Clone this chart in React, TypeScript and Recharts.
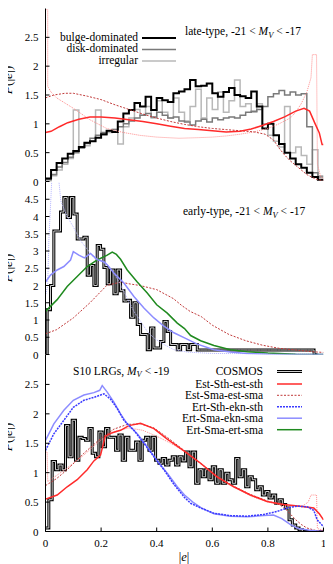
import React from 'react';
import { LineChart, Line, XAxis, YAxis } from 'recharts';

const FONT = '"Liberation Serif", "Times New Roman", Times, serif';

const X_TICKS = [0, 0.2, 0.4, 0.6, 0.8, 1];
const Y_TICKS_P1 = [0, 0.5, 1, 1.5, 2, 2.5];
const Y_TICKS_P2 = [0, 0.5, 1, 1.5, 2, 2.5, 3, 3.5, 4, 4.5];
const Y_TICKS_P3 = [0, 0.5, 1, 1.5, 2, 2.5];

// ---------- panel 1: late-type (COSMOS histograms, bin 0.02) ----------
const p1Bulge = [0.05, 0.2, 0.32, 0.4, 0.48, 0.53, 0.6, 0.67, 0.7, 0.76,
  0.82, 0.88, 0.86, 1.04, 1.18, 1.24, 1.36, 1.3, 1.47, 1.24,
  1.45, 1.41, 1.38, 1.53, 1.56, 1.6, 1.76, 1.65, 1.66, 1.7,
  1.53, 1.47, 1.55, 1.62, 1.5, 1.48, 1.45, 1.56, 1.3, 0.92,
  1.0, 0.8, 0.65, 0.5, 0.4, 0.3, 0.24, 0.15, 0.08, 0.03];
const p1Disk = [0.03, 0.12, 0.25, 0.33, 0.42, 0.5, 0.58, 0.66, 0.75, 0.8,
  0.85, 0.88, 0.9, 0.95, 1.0, 1.05, 1.1, 1.15, 1.18, 1.12,
  1.2, 1.15, 1.1, 1.12, 1.05, 1.03, 0.98, 1.05, 1.08, 1.03,
  1.1, 1.07, 1.1, 1.12, 1.1, 1.15, 1.2, 1.22, 1.25, 1.3,
  1.47, 1.52, 1.58, 1.5, 1.55, 1.5, 1.52, 0.95, 0.15, 0.08];
const p1Irr = [0.0, 0.1, 0.2, 0.3, 0.4, 1.24, 0.6, 0.62, 0.7, 1.24,
  0.8, 0.85, 0.9, 0.65, 0.95, 1.1, 1.25, 1.15, 1.3, 1.1,
  1.4, 1.2, 1.1, 1.45, 1.2, 1.05, 1.3, 1.6, 1.1, 1.45,
  1.25, 1.55, 1.2, 1.4, 1.76, 1.3, 1.35, 1.2, 1.35, 1.0,
  0.8, 0.7, 0.6, 1.3, 0.5, 0.6, 0.45, 0.3, 0.55, 0.1];
// models panel 1: [e, P]
const p1EstSth = [[0, 0.85], [0.02, 0.87], [0.05, 0.95], [0.08, 1.02], [0.12, 1.08], [0.16, 1.12], [0.2, 1.12], [0.25, 1.1], [0.3, 1.07], [0.35, 1.04], [0.4, 1.0], [0.45, 0.96], [0.5, 0.92], [0.55, 0.9], [0.6, 0.88], [0.65, 0.86], [0.7, 0.87], [0.74, 0.91], [0.78, 0.97], [0.82, 1.04], [0.86, 1.12], [0.9, 1.22], [0.93, 1.27], [0.95, 1.22], [0.97, 1.0], [0.985, 0.84], [0.995, 0.64], [1, 0.64]];
const p1EstSma = [[0, 1.45], [0.03, 1.5], [0.07, 1.53], [0.1, 1.53], [0.15, 1.48], [0.2, 1.42], [0.25, 1.33], [0.3, 1.25], [0.35, 1.17], [0.4, 1.1], [0.45, 1.04], [0.5, 0.99], [0.55, 0.95], [0.6, 0.92], [0.65, 0.9], [0.7, 0.88], [0.75, 0.86], [0.79, 0.82], [0.82, 0.72], [0.84, 0.58], [0.86, 0.46], [0.88, 0.36], [0.9, 0.28], [0.92, 0.2], [0.94, 0.12], [0.96, 0.07], [0.98, 0.03], [1, 0.02]];
const p1EstSmaAlt = [[0, 2.98], [0.008, 2.98], [0.008, 1.65], [0.02, 1.55], [0.04, 1.45], [0.07, 1.36], [0.1, 1.27], [0.16, 1.07], [0.22, 0.92], [0.28, 0.85], [0.34, 0.8], [0.4, 0.77], [0.48, 0.75], [0.55, 0.76], [0.6, 0.77], [0.65, 0.79], [0.7, 0.82], [0.75, 0.86], [0.8, 0.92], [0.84, 1.0], [0.88, 1.1], [0.9, 1.2], [0.92, 1.35], [0.94, 1.55], [0.955, 1.8], [0.96, 2.2], [0.975, 2.2], [0.978, 0.3], [0.99, 0.08], [1, 0.05]];

// ---------- panel 2: early-type (COSMOS bin 0.012, from e=0.006) ----------
const p2Cosmos = [1.3, 2.0, 3.58, 3.58, 4.13, 4.55, 3.97, 4.55, 4.07, 3.35,
  3.35, 3.4, 2.3, 2.58, 2.0, 3.16, 3.05, 2.52, 2.05, 2.45,
  1.76, 2.45, 1.85, 1.55, 1.57, 1.08, 1.5, 0.87, 0.58, 0.58,
  0.14, 0.77, 0.19, 0.19, 0.38, 0.96, 0.67, 0.29, 0.29, 0.14,
  0.29, 0.29, 0.14, 0.29, 0.29, 0.13, 0.13, 0.13, 0.13, 0.13,
  0.13, 0.13, 0.13, 0.13, 0.13, 0.13, 0.13, 0.13, 0.13, 0.13,
  0.13, 0.13, 0.13, 0.13, 0.13, 0.13, 0.13, 0.13, 0.13, 0.13,
  0.13, 0.13, 0.13, 0.13, 0.13, 0.13, 0.13, 0.13, 0.13, 0.13, 0];
const p2EstSma = [[0, 0.6], [0.04, 0.72], [0.1, 1.06], [0.16, 1.5], [0.22, 2.0], [0.27, 2.1], [0.3, 2.05], [0.34, 2.0], [0.4, 1.88], [0.46, 1.62], [0.49, 1.42], [0.52, 1.25], [0.56, 1.1], [0.6, 0.85], [0.66, 0.58], [0.72, 0.4], [0.78, 0.27], [0.84, 0.18], [0.9, 0.13], [0.96, 0.08], [1, 0.06]];
const p2ErtSmaEkn = [[0, 2.1], [0.018, 2.3], [0.042, 2.45], [0.066, 2.55], [0.09, 2.74], [0.1, 2.98], [0.12, 2.88], [0.14, 2.8], [0.162, 2.93], [0.186, 2.75], [0.21, 2.69], [0.222, 2.6], [0.246, 2.36], [0.282, 2.07], [0.318, 1.68], [0.354, 1.35], [0.39, 1.06], [0.426, 0.82], [0.462, 0.63], [0.5, 0.48], [0.546, 0.3], [0.606, 0.14], [0.665, 0.07], [0.725, 0.03], [0.8, 0.01], [1, 0]];
const p2ErtSmaEknAlt = [[0, 1.7], [0.008, 2.0], [0.012, 3.3], [0.018, 4.3], [0.024, 5.3], [0.045, 5.3], [0.055, 4.45], [0.078, 4.0], [0.1, 3.7], [0.126, 3.3], [0.15, 3.05], [0.174, 2.8], [0.2, 2.7], [0.222, 2.6], [0.246, 2.36], [0.27, 2.02], [0.294, 1.63], [0.318, 1.25], [0.342, 0.96], [0.366, 0.67], [0.39, 0.48], [0.426, 0.29], [0.462, 0.14], [0.51, 0.07], [0.6, 0.03], [1, 0.01]];
const p2ErtSmaErt = [[0, 1.25], [0.042, 1.59], [0.078, 1.97], [0.114, 2.26], [0.15, 2.55], [0.186, 2.74], [0.222, 2.88], [0.24, 2.97], [0.255, 2.9], [0.27, 2.76], [0.294, 2.45], [0.33, 2.1], [0.366, 1.78], [0.4, 1.44], [0.438, 1.2], [0.474, 0.91], [0.5, 0.75], [0.522, 0.55], [0.558, 0.4], [0.606, 0.26], [0.665, 0.14], [0.725, 0.08], [0.8, 0.04], [0.9, 0.01], [1, 0]];

// ---------- panel 3: S10 LRGs (COSMOS bin 0.012) ----------
const p3Cosmos = [0.06, 0.54, 1.19, 1.05, 1.13, 1.05, 1.8, 1.27, 1.89, 1.21,
  1.6, 1.58, 1.55, 1.75, 1.33, 1.27, 1.69, 1.44, 1.75, 1.6,
  1.6, 1.38, 1.64, 1.21, 1.6, 1.38, 1.38, 1.52, 1.21, 1.55,
  1.6, 1.38, 1.6, 1.21, 1.16, 1.24, 1.13, 1.21, 1.27, 1.13,
  1.27, 1.2, 1.35, 1.1, 1.35, 0.82, 1.05, 0.93, 1.05, 0.88,
  1.1, 0.82, 1.05, 0.82, 0.99, 0.88, 0.82, 1.24, 0.93, 1.05,
  0.76, 0.93, 0.88, 0.71, 0.76, 0.62, 0.68, 0.57, 0.62, 0.48,
  0.54, 0.46, 0.4, 0.2, 0.11, 0.06, 0.03, 0, 0, 0, 0, 0, 0, 0];
const p3EstSth = [[0, 0.55], [0.042, 0.62], [0.078, 0.76], [0.114, 0.88], [0.15, 1.05], [0.174, 1.2], [0.198, 1.3], [0.215, 1.62], [0.24, 1.68], [0.27, 1.72], [0.3, 1.8], [0.342, 1.84], [0.39, 1.75], [0.438, 1.57], [0.498, 1.37], [0.558, 1.16], [0.617, 0.93], [0.677, 0.76], [0.737, 0.62], [0.797, 0.51], [0.857, 0.46], [0.917, 0.43], [0.965, 0.4], [0.985, 0.3], [1, 0.2]];
const p3EstSma = [[0, 0.78], [0.04, 0.9], [0.078, 1.05], [0.138, 1.33], [0.198, 1.58], [0.246, 1.74], [0.294, 1.82], [0.342, 1.83], [0.39, 1.76], [0.438, 1.6], [0.498, 1.38], [0.558, 1.16], [0.617, 0.94], [0.677, 0.77], [0.737, 0.63], [0.797, 0.52], [0.84, 0.46], [0.86, 0.4], [0.88, 0.3], [0.9, 0.2], [0.92, 0.12], [0.94, 0.06], [0.97, 0.02], [1, 0.01]];
const p3EstSmaAlt = [[0, 1.35], [0.006, 1.35], [0.008, 0.85], [0.03, 0.92], [0.078, 1.08], [0.138, 1.3], [0.198, 1.55], [0.25, 1.7], [0.3, 1.76], [0.35, 1.72], [0.4, 1.62], [0.45, 1.5], [0.5, 1.36], [0.56, 1.14], [0.62, 0.92], [0.68, 0.75], [0.74, 0.6], [0.8, 0.5], [0.86, 0.44], [0.92, 0.42], [0.945, 0.5], [0.955, 0.62], [0.975, 0.62], [0.978, 0.05], [1, 0.02]];
const p3ErtSthEkn = [[0, 1.38], [0.03, 1.66], [0.066, 1.89], [0.1, 2.11], [0.138, 2.23], [0.174, 2.28], [0.21, 2.34], [0.234, 2.25], [0.258, 2.09], [0.282, 1.89], [0.318, 1.72], [0.354, 1.5], [0.39, 1.27], [0.426, 1.05], [0.462, 0.8], [0.5, 0.58], [0.522, 0.48], [0.558, 0.4], [0.606, 0.31], [0.665, 0.27], [0.725, 0.26], [0.785, 0.29], [0.833, 0.34], [0.869, 0.4], [0.905, 0.43], [0.941, 0.42], [0.965, 0.36], [0.977, 0.2], [1, 0.08]];
const p3ErtSmaEkn = [[0, 1.55], [0.03, 1.83], [0.066, 2.06], [0.1, 2.23], [0.138, 2.32], [0.174, 2.36], [0.195, 2.4], [0.204, 2.48], [0.222, 2.37], [0.246, 2.2], [0.27, 2.0], [0.294, 1.83], [0.33, 1.66], [0.366, 1.44], [0.402, 1.2], [0.438, 0.99], [0.474, 0.76], [0.5, 0.62], [0.53, 0.5], [0.56, 0.4], [0.606, 0.3], [0.665, 0.26], [0.725, 0.25], [0.785, 0.27], [0.82, 0.28], [0.85, 0.22], [0.88, 0.12], [0.91, 0.05], [0.95, 0.02], [1, 0]];

type Pt = { x: number; y: number };
const pairs = (a: number[][]): Pt[] => a.map(([x, y]) => ({ x, y }));
const steps = (vals: number[], w: number, x0 = 0): Pt[] => {
  const pts: Pt[] = [];
  if (x0 > 0) pts.push({ x: 0, y: 0 });
  vals.forEach((y, i) => pts.push({ x: x0 + i * w, y }));
  pts.push({ x: Math.min(1, x0 + vals.length * w), y: vals[vals.length - 1] });
  return pts;
};

const C = {
  red: '#ff2a2a', darkRed: '#c03a3a', lightRed: '#ff8c8c',
  blue: '#3a3aff', lightBlue: '#8c8cff', paleBlue: '#b4b4ff',
  green: '#1f8a1f', disk: '#7a7a7a', irr: '#b8b8b8',
};

type Series = { pts: Pt[]; color: string; w: number; dash?: string; step?: boolean };

const S1: Series[] = [
  { pts: steps(p1Irr, 0.02), color: C.irr, w: 1.5, step: true },
  { pts: steps(p1Disk, 0.02), color: C.disk, w: 1.5, step: true },
  { pts: steps(p1Bulge, 0.02), color: '#000', w: 2, step: true },
  { pts: pairs(p1EstSmaAlt), color: C.lightRed, w: 1, dash: '1 1' },
  { pts: pairs(p1EstSma), color: C.darkRed, w: 1, dash: '2 1.5' },
  { pts: pairs(p1EstSth), color: C.red, w: 1.5 },
];
const S2: Series[] = [
  { pts: steps(p2Cosmos, 0.012, 0.006), color: '#000', w: 3, step: true },
  { pts: steps(p2Cosmos, 0.012, 0.006), color: '#cfcfcf', w: 1, step: true },
  { pts: pairs(p2EstSma), color: C.darkRed, w: 1, dash: '2 1.5' },
  { pts: pairs(p2ErtSmaEknAlt), color: C.paleBlue, w: 1, dash: '1 1' },
  { pts: pairs(p2ErtSmaErt), color: C.green, w: 1.5 },
  { pts: pairs(p2ErtSmaEkn), color: C.lightBlue, w: 1.5 },
];
const S3: Series[] = [
  { pts: steps(p3Cosmos, 0.012), color: '#000', w: 3, step: true },
  { pts: steps(p3Cosmos, 0.012), color: '#cfcfcf', w: 1, step: true },
  { pts: pairs(p3EstSmaAlt), color: C.lightRed, w: 1, dash: '1 1' },
  { pts: pairs(p3EstSma), color: C.darkRed, w: 1, dash: '2 1.5' },
  { pts: pairs(p3EstSth), color: C.red, w: 1.5 },
  { pts: pairs(p3ErtSmaEkn), color: C.lightBlue, w: 1.5 },
  { pts: pairs(p3ErtSthEkn), color: C.blue, w: 1.5, dash: '2 1' },
];

const txt = { fontFamily: FONT, fontSize: 11, fill: '#000' } as const;

function Panel(props: { h: number; mt: number; mb: number; xh: number; yMax: number; yTicks: number[]; labels: boolean; topLine: boolean; series: Series[] }) {
  const { h, mt, mb, xh, yMax, yTicks, labels, topLine, series } = props;
  return (
    <LineChart width={325} height={h} margin={{ top: mt, right: 9.5, bottom: mb, left: 0.5 }}>
      <XAxis type="number" dataKey="x" domain={[0, 1]} ticks={X_TICKS} interval={0} height={xh}
        tickSize={0} tickMargin={0} tickLine={false} axisLine={{ stroke: '#000' }} allowDataOverflow
        tick={(p: any) => (
          <g>
            <line x1={p.x} x2={p.x} y1={p.y} y2={p.y - 4} stroke="#000" />
            {labels && <text x={p.x} y={p.y + 15} textAnchor="middle" {...txt}>{String(p.payload.value)}</text>}
          </g>
        )} />
      <XAxis xAxisId="t" orientation="top" type="number" dataKey="x" domain={[0, 1]} ticks={X_TICKS} interval={0} height={0}
        tickSize={0} tickMargin={0} tickLine={false} axisLine={topLine ? { stroke: '#000' } : false} allowDataOverflow
        tick={(p: any) => <line x1={p.x} x2={p.x} y1={p.y} y2={p.y + 4} stroke="#000" />} />
      <YAxis type="number" domain={[0, yMax]} ticks={yTicks} interval={0} width={37}
        tickSize={0} tickMargin={0} tickLine={false} axisLine={{ stroke: '#000' }} allowDataOverflow
        tick={(p: any) => (
          <g>
            <line x1={p.x} x2={p.x + 4} y1={p.y} y2={p.y} stroke="#000" />
            <text x={p.x - 7} y={p.y + 4} textAnchor="end" {...txt}>{String(p.payload.value)}</text>
          </g>
        )} />
      <YAxis yAxisId="r" orientation="right" type="number" domain={[0, yMax]} ticks={yTicks} interval={0} width={0}
        tickSize={0} tickMargin={0} tickLine={false} axisLine={{ stroke: '#000' }} allowDataOverflow
        tick={(p: any) => <line x1={p.x} x2={p.x - 4} y1={p.y} y2={p.y} stroke="#000" />} />
      {series.map((s, i) => (
        <Line key={i} data={s.pts} dataKey="y" type={s.step ? 'stepAfter' : 'linear'} stroke={s.color}
          strokeWidth={s.w} strokeDasharray={s.dash} dot={false} activeDot={false} isAnimationActive={false} />
      ))}
    </LineChart>
  );
}

const lg = { fontFamily: FONT, fontSize: 11.5, fill: '#000' } as const;

function MV(props: { x: number; y: number; anchor?: string; pre: string; post: string }) {
  return (
    <text x={props.x} y={props.y} textAnchor={props.anchor || 'start'} {...lg}>
      {props.pre}<tspan fontStyle="italic">M</tspan><tspan fontStyle="italic" fontSize={8.5} dy={2.5}>V</tspan><tspan dy={-2.5}>{props.post}</tspan>
    </text>
  );
}

function YLabel(props: { y: number }) {
  return (
    <text transform={`translate(12,${props.y}) rotate(-90)`} textAnchor="middle" fontFamily={FONT} fontSize={13.5} fill="#000">
      <tspan fontStyle="italic">P</tspan>(|<tspan fontStyle="italic">e</tspan>|)
    </text>
  );
}

const legend3 = [
  { label: 'COSMOS', y: 371.5 },
  { label: 'Est-Sth-est-sth', y: 384 },
  { label: 'Est-Sma-est-sma', y: 395.3 },
  { label: 'Ert-Sth-ekn-sth', y: 406.7 },
  { label: 'Ert-Sma-ekn-sma', y: 418.2 },
  { label: 'Ert-Sma-ert-sma', y: 429.7 },
];

export default function App() {
  return (
    <div style={{ position: 'relative', width: 325, height: 556 }}>
      <style>{'.recharts-surface { overflow: visible; } .recharts-wrapper { overflow: visible; }'}</style>
      <Panel h={174} mt={0.5} mb={0.5} xh={0} yMax={3} yTicks={Y_TICKS_P1} labels={false} topLine={true} series={S1} />
      <Panel h={173} mt={0} mb={0.5} xh={0} yMax={5} yTicks={Y_TICKS_P2} labels={false} topLine={false} series={S2} />
      <Panel h={209} mt={0} mb={0.5} xh={32} yMax={3} yTicks={Y_TICKS_P3} labels={true} topLine={false} series={S3} />
      <svg width={333} height={564} style={{ position: 'absolute', left: -8, top: -8, pointerEvents: 'none' }}>
        {/* panel 1 legend */}
        <text x={138} y={40.5} textAnchor="end" {...lg}>bulge-dominated</text>
        <text x={138} y={52} textAnchor="end" {...lg}>disk-dominated</text>
        <text x={138} y={63.5} textAnchor="end" {...lg}>irregular</text>
        <line x1={142} x2={176} y1={38} y2={38} stroke="#000" strokeWidth={2} />
        <line x1={142} x2={176} y1={49.5} y2={49.5} stroke={C.disk} strokeWidth={1.5} />
        <line x1={142} x2={176} y1={61} y2={61} stroke={C.irr} strokeWidth={1.5} />
        <MV x={185} y={35} pre="late-type, -21 < " post=" < -17" />
        <MV x={183} y={215} pre="early-type, -21 < " post=" < -17" />
        <MV x={73} y={374.5} pre="S10 LRGs, " post=" < -19" />
        {legend3.map((r) => (
          <text key={r.label} x={263} y={r.y + 3.8} textAnchor="end" {...lg}>{r.label}</text>
        ))}
        <line x1={277} x2={302} y1={371.5} y2={371.5} stroke="#000" strokeWidth={3} />
        <line x1={277} x2={302} y1={371.5} y2={371.5} stroke="#cfcfcf" strokeWidth={1} />
        <line x1={277} x2={302} y1={384} y2={384} stroke={C.red} strokeWidth={1.5} />
        <line x1={277} x2={302} y1={395.3} y2={395.3} stroke={C.darkRed} strokeWidth={1} strokeDasharray="2 1.5" />
        <line x1={277} x2={302} y1={406.7} y2={406.7} stroke={C.blue} strokeWidth={1.5} strokeDasharray="2 1" />
        <line x1={277} x2={302} y1={418.2} y2={418.2} stroke={C.lightBlue} strokeWidth={1.5} />
        <line x1={277} x2={302} y1={429.7} y2={429.7} stroke={C.green} strokeWidth={1.5} />
        <YLabel y={80} />
        <YLabel y={268} />
        <YLabel y={437} />
        <text x={184} y={561} textAnchor="middle" fontFamily={FONT} fontSize={12.5} fill="#000">
          |<tspan fontStyle="italic">e</tspan>|
        </text>
      </svg>
    </div>
  );
}
